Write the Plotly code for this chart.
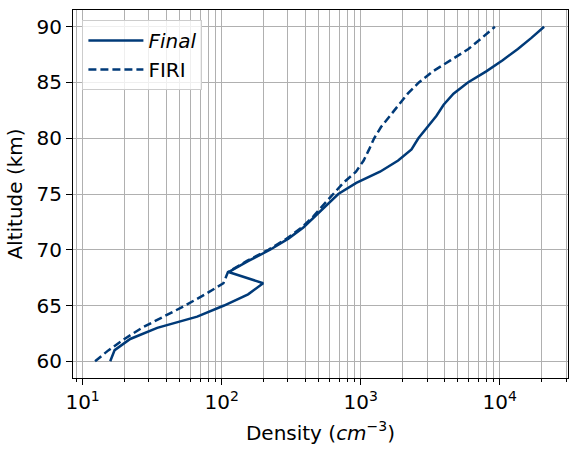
import plotly.graph_objects as go

altitude = list(range(60, 91))

final_density = [15.8, 17.0, 22, 34.4, 66.7, 104, 155, 199, 112, 156, 223, 302, 387, 470,
                 570, 690, 930, 1377, 1860, 2320, 2600, 3000, 3500, 3950, 4650, 5900,
                 8000, 10500, 13500, 16900, 20850]

firi_density = [12.3, 15.4, 20, 26.7, 38.2, 54.7, 76, 103, 111, 152, 217, 294, 377, 457,
                538, 635, 750, 925, 1050, 1150, 1250, 1400, 1620, 1870, 2180, 2620,
                3300, 4450, 5950, 7450, 9230]

x_tickvals = [10, 100, 1000, 10000]
x_ticktext = ["10<sup>1</sup>", "10<sup>2</sup>", "10<sup>3</sup>", "10<sup>4</sup>"]
y_tickvals = [60, 65, 70, 75, 80, 85, 90]

color = "#003a78"
grid = "#b0b0b0"
font = "DejaVu Sans"

fig = go.Figure()
fig.add_trace(go.Scatter(x=final_density, y=altitude, mode="lines", name="<i>Final</i>",
                         line=dict(color=color, width=2.5)))
fig.add_trace(go.Scatter(x=firi_density, y=altitude, mode="lines", name="FIRI",
                         line=dict(color=color, width=2.5, dash="8px,4px")))

fig.update_layout(
    width=577, height=459,
    margin=dict(l=73, r=9, t=10, b=81),
    paper_bgcolor="white", plot_bgcolor="white",
    font=dict(family=font, size=20, color="black"),
    showlegend=True,
    legend=dict(x=0.019, y=0.973, xanchor="left", yanchor="top",
                bgcolor="rgba(255,255,255,0.8)", bordercolor="#cccccc", borderwidth=1,
                font=dict(size=20), tracegroupgap=0, itemwidth=55),
)
fig.update_xaxes(
    type="log", range=[0.931, 4.491],
    tickmode="array", tickvals=x_tickvals, ticktext=x_ticktext,
    ticks="outside", ticklen=6, tickwidth=1, tickcolor="black",
    tickfont=dict(size=20),
    showgrid=True, gridcolor=grid, gridwidth=1,
    minor=dict(dtick="D1", ticks="outside", ticklen=3, tickcolor="black",
               showgrid=True, gridcolor=grid, gridwidth=1),
    showline=True, linecolor="black", linewidth=1, mirror=True,
    zeroline=False,
    title=dict(text="Density (<i>cm</i><sup>−3</sup>)", font=dict(size=20), standoff=12),
)
fig.update_yaxes(
    range=[58.5, 91.5],
    tickmode="array", tickvals=y_tickvals,
    ticks="outside", ticklen=6, tickwidth=1, tickcolor="black",
    tickfont=dict(size=20),
    showgrid=True, gridcolor=grid, gridwidth=1,
    showline=True, linecolor="black", linewidth=1, mirror=True,
    zeroline=False,
    title=dict(text="Altitude (km)", font=dict(size=20), standoff=8),
)

fig.write_html("out.html")
